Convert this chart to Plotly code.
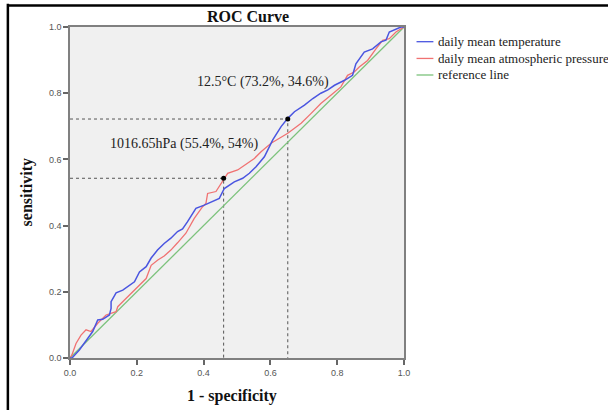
import plotly.graph_objects as go

# ROC curve: daily mean temperature (1 - specificity, sensitivity)
temp_fpr = [0, 0.006, 0.028, 0.048, 0.068, 0.083, 0.098, 0.118, 0.123, 0.123, 0.138, 0.158,
            0.178, 0.193, 0.208, 0.228, 0.243, 0.262, 0.282, 0.302, 0.322, 0.337, 0.352, 0.377,
            0.402, 0.427, 0.447, 0.462, 0.492, 0.517, 0.537, 0.557, 0.582, 0.607, 0.632, 0.652,
            0.672, 0.702, 0.727, 0.751, 0.772, 0.792, 0.822, 0.846, 0.856, 0.881, 0.906, 0.931,
            0.946, 0.956, 0.976, 0.991, 1.0]
temp_tpr = [0, 0.0, 0.024, 0.054, 0.08, 0.115, 0.117, 0.13, 0.15, 0.17, 0.197, 0.205,
            0.218, 0.23, 0.26, 0.276, 0.302, 0.326, 0.346, 0.362, 0.382, 0.39, 0.412, 0.452,
            0.462, 0.472, 0.482, 0.512, 0.532, 0.543, 0.558, 0.578, 0.608, 0.659, 0.699, 0.724,
            0.744, 0.764, 0.784, 0.8, 0.81, 0.824, 0.839, 0.854, 0.889, 0.924, 0.934, 0.955,
            0.96, 0.985, 0.993, 1.0, 1.0]

# ROC curve: daily mean atmospheric pressure
pres_fpr = [0, 0.006, 0.018, 0.033, 0.048, 0.063, 0.083, 0.108, 0.138, 0.143, 0.163, 0.183,
            0.203, 0.228, 0.243, 0.263, 0.282, 0.302, 0.322, 0.347, 0.372, 0.397, 0.407, 0.412,
            0.437, 0.452, 0.46, 0.472, 0.502, 0.532, 0.552, 0.572, 0.602, 0.627, 0.652, 0.672,
            0.692, 0.722, 0.751, 0.781, 0.811, 0.831, 0.851, 0.866, 0.891, 0.916, 0.936, 0.956,
            0.976, 1.0]
pres_tpr = [0, 0.01, 0.044, 0.069, 0.085, 0.08, 0.105, 0.13, 0.14, 0.155, 0.175, 0.195,
            0.215, 0.24, 0.28, 0.296, 0.308, 0.326, 0.348, 0.377, 0.422, 0.457, 0.467, 0.497,
            0.503, 0.527, 0.543, 0.558, 0.568, 0.588, 0.603, 0.623, 0.649, 0.664, 0.679, 0.694,
            0.709, 0.739, 0.769, 0.794, 0.819, 0.854, 0.864, 0.879, 0.899, 0.934, 0.96, 0.965,
            0.985, 1.0]

ref_x = [0, 1]
ref_y = [0, 1]

# Optimal cut-off points
cut_labels = ["12.5°C (73.2%, 34.6%)", "1016.65hPa (55.4%, 54%)"]
cut_fpr = [0.652, 0.46]
cut_tpr = [0.722, 0.543]
label_pos_x = [0.579, 0.341]
label_pos_y = [0.835, 0.647]

series_names = ["daily mean temperature", "daily mean atmospheric pressure", "reference line"]
series_colors = ["#4a55e0", "#f07272", "#7cc27c"]

SERIF = "Liberation Serif, Times New Roman, serif"
SANS = "Liberation Sans, Arial, sans-serif"

fig = go.Figure()

# dotted guide lines for cut-off points
for fx, ty in zip(cut_fpr, cut_tpr):
    fig.add_trace(go.Scatter(x=[0, fx, fx], y=[ty, ty, 0], mode="lines",
                             line=dict(color="#555555", width=1, dash="dot"),
                             showlegend=False, hoverinfo="skip"))

fig.add_trace(go.Scatter(x=ref_x, y=ref_y, mode="lines", name=series_names[2],
                         line=dict(color=series_colors[2], width=1.3), showlegend=False))
fig.add_trace(go.Scatter(x=pres_fpr, y=pres_tpr, mode="lines", name=series_names[1],
                         line=dict(color=series_colors[1], width=1.3), showlegend=False))
fig.add_trace(go.Scatter(x=temp_fpr, y=temp_tpr, mode="lines", name=series_names[0],
                         line=dict(color=series_colors[0], width=1.5), showlegend=False))

fig.add_trace(go.Scatter(x=cut_fpr, y=cut_tpr, mode="markers",
                         marker=dict(color="black", size=5), showlegend=False))

annotations = []
for txt, ax_, ay_ in zip(cut_labels, label_pos_x, label_pos_y):
    annotations.append(dict(x=ax_, y=ay_, xref="x", yref="y", text=txt, showarrow=False,
                            font=dict(family=SERIF, size=14, color="#222222"),
                            xanchor="center", yanchor="middle"))

# title and axis titles
annotations.append(dict(x=0.534, y=1.031, xref="paper", yref="paper", text="<b>ROC Curve</b>",
                        showarrow=False, font=dict(family=SERIF, size=16, color="#111111"),
                        xanchor="center", yanchor="middle"))
annotations.append(dict(x=0.484, y=-0.114, xref="paper", yref="paper", text="<b>1 - specificity</b>",
                        showarrow=False, font=dict(family=SERIF, size=16, color="#111111"),
                        xanchor="center", yanchor="middle"))
annotations.append(dict(x=-0.129, y=0.5, xref="paper", yref="paper", text="<b>sensitivity</b>",
                        showarrow=False, textangle=-90, font=dict(family=SERIF, size=16, color="#111111"),
                        xanchor="center", yanchor="middle"))

# manual legend
shapes = []
leg_y = [0.9556, 0.905, 0.855]
for name, col, ly in zip(series_names, series_colors, leg_y):
    shapes.append(dict(type="line", xref="paper", yref="paper", x0=1.0375, x1=1.088, y0=ly, y1=ly,
                       line=dict(color=col, width=1.3)))
    annotations.append(dict(x=1.096, y=ly, xref="paper", yref="paper", text=name, showarrow=False,
                            font=dict(family=SERIF, size=13, color="#222222"),
                            xanchor="left", yanchor="middle"))

# image frame lines (top and left)
shapes.append(dict(type="line", xref="paper", yref="paper", x0=-0.186, x1=1.8, y0=1.065, y1=1.065,
                   line=dict(color="black", width=2.5)))
shapes.append(dict(type="line", xref="paper", yref="paper", x0=-0.186, x1=-0.186, y0=1.07, y1=-0.3,
                   line=dict(color="black", width=2.5)))

axis_common = dict(range=[0, 1], dtick=0.2, tick0=0, tickformat=".1f", showgrid=False, zeroline=False,
                   showline=True, linecolor="#808080", linewidth=1.5, mirror=True,
                   ticks="outside", ticklen=5, tickcolor="#666666", tickwidth=1.5,
                   tickfont=dict(family=SANS, size=9, color="#555555"))

fig.update_layout(
    width=608, height=410,
    margin=dict(l=70, r=204, t=27, b=52),
    paper_bgcolor="white", plot_bgcolor="#f0f0f0",
    xaxis=axis_common, yaxis=axis_common,
    annotations=annotations, shapes=shapes,
    showlegend=False,
)

fig.write_html(
    "out.html",
    config={"displayModeBar": False},
    post_script="document.body.style.margin='0';document.body.style.overflow='hidden';",
)
